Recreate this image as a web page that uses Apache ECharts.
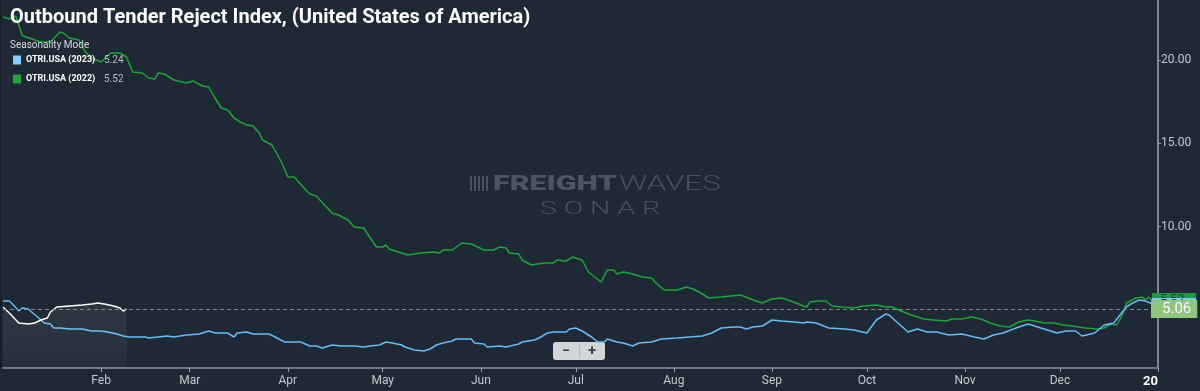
<!DOCTYPE html>
<html>
<head>
<meta charset="utf-8">
<script src="https://cdn.jsdelivr.net/npm/echarts@6/dist/echarts.min.js"></script>
<style>
html,body{margin:0;padding:0;background:#1e2935;}
#chart{width:1200px;height:391px;}
</style>
</head>
<body>
<div id="chart"></div>
<script>
// ---- data ----
const monthStarts = [0, 31, 59, 90, 120, 151, 181, 212, 243, 273, 304, 334, 365];
const monthLabels = ['', 'Feb', 'Mar', 'Apr', 'May', 'Jun', 'Jul', 'Aug', 'Sep', 'Oct', 'Nov', 'Dec', '20'];
const seriesNames = ['OTRI.USA (2023)', 'OTRI.USA (2022)', 'OTRI.USA'];
const legendValues = ['5.24', '5.52'];
const currentValue = 5.06;

const green2022 = [[0,22.58],[2,22.46],[4,22.64],[6,21.5],[7,21.39],[12,21.08],[15,21.08],[18,21.68],[19,21.62],[21,21.32],[24,21.2],[26,20.48],[28,20.12],[31,19.88],[34,20.42],[37,20.42],[39,20.18],[41,19.28],[44,19.22],[46,18.92],[48,18.86],[49,19.22],[51,19.16],[54,18.8],[58,18.62],[60,18.74],[63,18.44],[65,18.38],[67,17.72],[69,17.12],[71,17.0],[73,16.52],[75,16.28],[77,16.1],[79,16.04],[81,15.62],[82,15.2],[85,14.9],[88,13.88],[90,12.98],[92,12.98],[96,12.14],[97,11.96],[99,11.84],[101,11.42],[104,10.82],[106,10.7],[109,10.4],[111,9.98],[114,9.92],[115,9.62],[118,8.78],[120,8.78],[121,8.9],[122,8.66],[125,8.48],[128,8.3],[132,8.42],[136,8.48],[138,8.42],[139,8.6],[142,8.6],[145,9.02],[148,8.96],[152,8.6],[155,8.6],[157,8.78],[159,8.72],[160,8.42],[163,8.36],[164,8.0],[167,7.7],[171,7.82],[174,7.82],[175,8.0],[178,7.94],[180,8.18],[183,8.0],[185,7.28],[187,6.98],[189,6.68],[191,7.4],[193,7.4],[194,7.16],[196,7.28],[199,7.16],[202,6.98],[205,6.92],[206,6.68],[209,6.2],[213,6.2],[216,6.38],[218,6.26],[220,6.08],[223,5.72],[227,5.78],[230,5.84],[233,5.9],[238,5.54],[240,5.42],[243,5.66],[246,5.72],[249,5.54],[253,5.24],[254,5.18],[255,5.48],[258,5.54],[260,5.54],[262,5.24],[265,5.18],[269,5.12],[272,5.24],[276,5.3],[279,5.18],[281,5.18],[283,5.0],[287,4.7],[291,4.46],[294,4.4],[298,4.34],[300,4.46],[303,4.46],[306,4.58],[309,4.46],[312,4.22],[315,4.04],[318,3.98],[321,4.28],[324,4.4],[326,4.34],[329,4.22],[332,4.22],[335,4.1],[338,4.04],[342,3.92],[346,3.86],[348,3.92],[350,4.16],[352,4.1],[354,4.82],[355,5.42],[358,5.72],[360,5.78],[361,5.6],[362,5.78],[363,5.6],[364,5.72]];

const blue2023 = [[0,5.54],[2,5.54],[3,5.36],[5,4.94],[6,5.12],[8,5.06],[9,4.88],[11,4.58],[13,4.22],[15,4.16],[16,3.92],[18,3.92],[21,3.86],[25,3.86],[28,3.74],[31,3.74],[33,3.68],[36,3.56],[38,3.44],[40,3.38],[45,3.38],[46,3.32],[49,3.38],[52,3.44],[54,3.38],[58,3.5],[62,3.56],[65,3.74],[67,3.62],[71,3.62],[73,3.38],[74,3.62],[77,3.68],[79,3.56],[84,3.56],[86,3.38],[89,3.08],[92,3.08],[94,3.08],[97,2.84],[99,2.84],[101,2.72],[104,2.9],[107,2.84],[111,2.84],[114,2.78],[116,2.84],[119,2.9],[121,3.08],[123,3.02],[126,2.9],[127,2.78],[130,2.6],[133,2.54],[135,2.66],[137,2.9],[139,3.02],[142,3.14],[143,3.26],[148,3.26],[149,3.02],[152,2.96],[153,2.78],[157,2.84],[159,2.78],[163,2.96],[164,3.08],[168,3.2],[170,3.38],[172,3.62],[174,3.68],[178,3.68],[179,3.86],[181,3.92],[183,3.74],[186,3.38],[188,3.08],[190,3.08],[191,3.26],[194,3.08],[196,3.02],[199,2.84],[201,3.02],[205,3.08],[208,3.26],[213,3.32],[217,3.38],[221,3.44],[224,3.62],[227,3.92],[231,3.98],[233,3.98],[235,3.86],[237,3.98],[240,4.04],[243,4.4],[246,4.34],[250,4.28],[253,4.22],[254,4.28],[257,4.22],[261,3.92],[266,3.86],[269,3.8],[273,3.62],[276,4.4],[279,4.76],[280,4.7],[286,3.68],[289,3.86],[292,3.68],[295,3.68],[299,3.5],[303,3.56],[307,3.38],[310,3.26],[313,3.5],[316,3.62],[321,3.98],[324,4.16],[328,3.92],[333,3.62],[336,3.74],[339,3.74],[341,3.44],[345,3.62],[348,4.1],[351,4.22],[355,5.18],[357,5.42],[359,5.6],[361,5.54],[364,5.3]];

const white2024 = [[0,5.18],[2,4.82],[5,4.22],[8,4.16],[10,4.22],[12,4.4],[14,4.52],[15,4.88],[17,5.18],[21,5.24],[25,5.3],[28,5.36],[30,5.42],[32,5.36],[35,5.24],[37,5.12],[38,4.94],[39,5.06]];

// ---- chart ----
const categories = [];
for (let i = 0; i <= 365; i++) categories.push(String(i));

const chart = echarts.init(document.getElementById('chart'), null, {renderer: 'canvas'});
const legendColors = ['#8ccfff', '#27a442'];

const option = {
  backgroundColor: '#1e2935',
  animation: false,
  title: [
    {text: 'Outbound Tender Reject Index, (United States of America)', left: 5, top: 3,
     textStyle: {color: '#ffffff', fontSize: 20, fontWeight: 'bold', fontFamily: 'Roboto'}},
    {text: 'Seasonality Mode', left: 5, top: 35,
     textStyle: {color: '#d6dade', fontSize: 10, fontWeight: 'normal', fontFamily: 'Roboto'}}
  ],
  legend: {
    left: 8, top: 50, orient: 'vertical', itemGap: 9,
    icon: 'rect', itemWidth: 8, itemHeight: 9,
    data: [
      {name: seriesNames[0], itemStyle: {color: legendColors[0]}},
      {name: seriesNames[1], itemStyle: {color: legendColors[1]}}
    ],
    formatter: function (name) {
      const i = seriesNames.indexOf(name);
      return '{n|' + name + '}{v|' + legendValues[i] + '}';
    },
    textStyle: {
      color: '#ffffff', fontFamily: 'Roboto',
      rich: {
        n: {color: '#ffffff', fontSize: 9, fontWeight: 'bold', width: 78, fontFamily: 'Roboto'},
        v: {color: '#b8bec4', fontSize: 10, fontFamily: 'Roboto'}
      }
    }
  },
  grid: {left: 2, right: 42, top: 0, bottom: 23},
  xAxis: {
    type: 'category', data: categories, boundaryGap: false,
    axisLine: {show: true, lineStyle: {color: '#6f7880', width: 2}},
    axisTick: {show: true, length: 4, lineStyle: {color: '#9aa1a8'},
      interval: function (idx) { return monthStarts.indexOf(idx) >= 0 && idx > 0; }},
    axisLabel: {
      color: '#c4c9ce', fontSize: 12, fontFamily: 'Roboto', margin: 7,
      alignMaxLabel: 'right',
      interval: function (idx) { return monthStarts.indexOf(idx) >= 0; },
      formatter: function (v, idx) {
        const i = monthStarts.indexOf(idx);
        if (i < 0) return '';
        if (i === monthStarts.length - 1) return '{b|' + monthLabels[i] + '}';
        return monthLabels[i];
      },
      rich: {b: {fontWeight: 'bold', color: '#ffffff', fontSize: 13, fontFamily: 'Roboto'}}
    },
    splitLine: {show: false}
  },
  yAxis: {
    type: 'value', position: 'right', min: 1.52, max: 23.6,
    axisLine: {show: true, lineStyle: {color: '#7d858d', width: 2}},
    axisTick: {show: true, length: 3, lineStyle: {color: '#9aa1a8'}},
    axisLabel: {
      color: '#c4c9ce', fontSize: 12, fontFamily: 'Roboto', margin: 3,
      showMinLabel: false, showMaxLabel: false,
      formatter: function (v) { return v >= 10 ? v.toFixed(2) : ''; }
    },
    splitLine: {show: false}
  },
  graphic: [
    {type: 'rect', left: 0, top: 0, silent: true, z: 50,
     shape: {width: 1.5, height: 368}, style: {fill: '#151d26'}},
    {type: 'group', left: 470, top: 174, silent: true, z: 0, children: [
      {type: 'rect', shape: {x: 0, y: 1, width: 2, height: 15}, style: {fill: '#48535e'}},
      {type: 'rect', shape: {x: 4, y: 1, width: 2, height: 15}, style: {fill: '#48535e'}},
      {type: 'rect', shape: {x: 8, y: 1, width: 2, height: 15}, style: {fill: '#48535e'}},
      {type: 'rect', shape: {x: 12, y: 1, width: 2, height: 15}, style: {fill: '#48535e'}},
      {type: 'rect', shape: {x: 16, y: 1, width: 2, height: 15}, style: {fill: '#48535e'}},
      {type: 'text', x: 23, y: -1, scaleX: 1.45, style: {text: 'FREIGHT', fill: '#4b5661', font: '900 21px Roboto'}},
      {type: 'text', x: 149, y: -1, scaleX: 1.5, style: {text: 'WAVES', fill: '#46515c', font: '300 21px Roboto'}}
    ]},
    {type: 'text', left: 540, top: 200, silent: true, z: 0, scaleX: 1.5,
     style: {text: 'S O N A R', fill: '#46515c', font: '300 19px Roboto'}},
    {type: 'group', left: 553, top: 342, z: 100, children: [
      {type: 'rect', shape: {x: 0, y: 0, width: 52, height: 18, r: 3}, style: {fill: '#d3d6d9'}},
      {type: 'rect', shape: {x: 26, y: 2, width: 1, height: 14}, style: {fill: '#b5b9bd'}},
      {type: 'text', x: 13, y: 9, style: {text: '\u2212', fill: '#3a3f44', font: 'bold 14px Roboto', align: 'center', verticalAlign: 'middle'}},
      {type: 'text', x: 39, y: 9, style: {text: '+', fill: '#3a3f44', font: 'bold 15px Roboto', align: 'center', verticalAlign: 'middle'}}
    ]}
  ],
  series: [
    {
      name: seriesNames[1], type: 'line', data: green2022, symbol: 'none', z: 2,
      lineStyle: {color: '#22a13e', width: 1.5}, itemStyle: {color: '#22a13e'},
      endLabel: {show: true, formatter: legendValues[1], backgroundColor: '#1f9a3a',
        color: '#26333d', fontSize: 12, padding: [1, 12, 1, 9], distance: -3, offset: [0, 2]}
    },
    {
      name: seriesNames[0], type: 'line', data: blue2023, symbol: 'none', z: 3,
      lineStyle: {color: '#6cbaf0', width: 1.5}, itemStyle: {color: '#6cbaf0'},
      endLabel: {show: true, formatter: legendValues[0], backgroundColor: '#7cc6f7',
        color: '#26333d', fontSize: 12, padding: [1, 12, 1, 9], distance: -3, offset: [0, 0]}
    },
    {
      name: seriesNames[2], type: 'line', data: white2024, symbol: 'none', z: 4,
      lineStyle: {color: '#ffffff', width: 1.5}, itemStyle: {color: '#ffffff'},
      areaStyle: {color: new echarts.graphic.LinearGradient(0, 0, 0, 1, [
        {offset: 0, color: 'rgba(255,255,255,0.10)'},
        {offset: 1, color: 'rgba(255,255,255,0.05)'}
      ])},
      markLine: {
        silent: true, symbol: 'none', z: 10,
        lineStyle: {color: '#7e8c7c', type: [4, 3], width: 1},
        label: {show: true, position: 'end', formatter: currentValue.toFixed(2),
          backgroundColor: '#8fc57c', color: '#ffffff', fontSize: 15, fontFamily: 'Roboto',
          padding: [2, 6, 1, 11], distance: -7},
        data: [{yAxis: currentValue}]
      }
    }
  ]
};
chart.setOption(option);
</script>
</body>
</html>
